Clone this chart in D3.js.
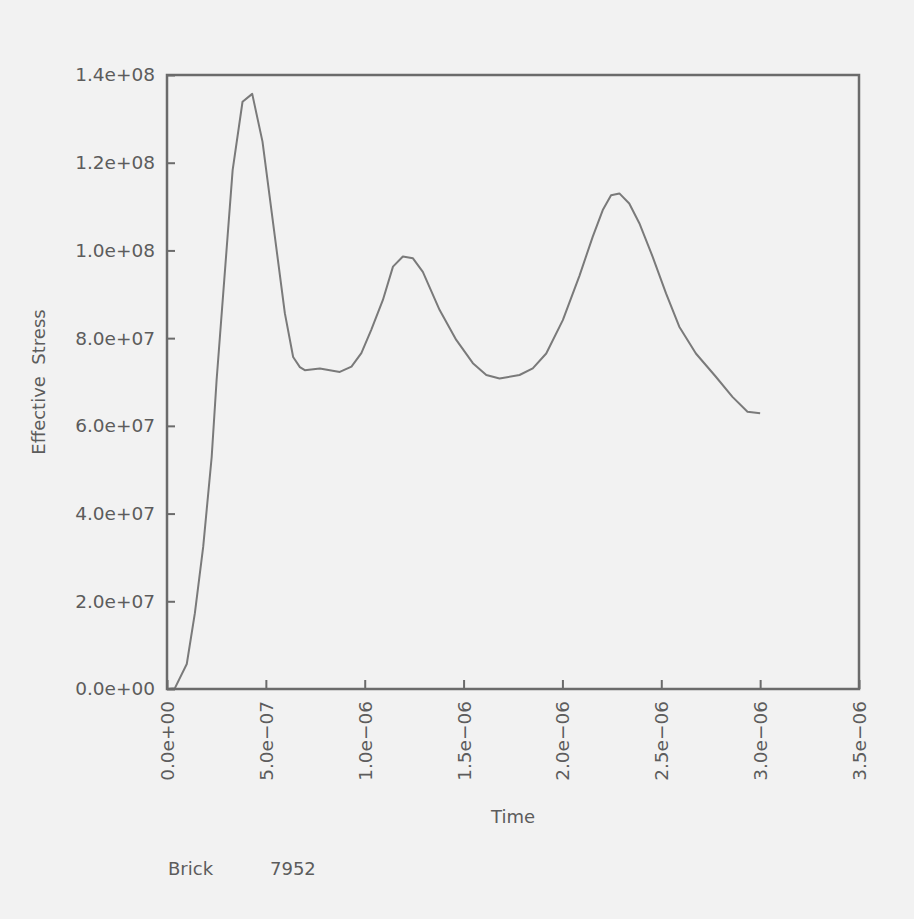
<!DOCTYPE html>
<html>
<head>
<meta charset="utf-8">
<script src="https://cdn.jsdelivr.net/npm/d3@7"></script>
<style>
  html, body { margin: 0; padding: 0; background: #f2f2f2; }
  svg text { font-family: "DejaVu Sans", sans-serif; fill: #5c5c5c; }
</style>
</head>
<body>
<svg id="chart" width="914" height="919"></svg>
<script>
// time in microseconds, effective stress in units of 1e7
const timeUs = [0, 0.040, 0.100, 0.141, 0.183, 0.226, 0.251, 0.332, 0.382, 0.431, 0.483,
  0.596, 0.638, 0.672, 0.697, 0.773, 0.874, 0.933, 0.983, 1.033, 1.092, 1.143, 1.193,
  1.244, 1.294, 1.379, 1.463, 1.547, 1.615, 1.682, 1.783, 1.850, 1.918, 2.002, 2.086,
  2.153, 2.204, 2.246, 2.288, 2.338, 2.389, 2.456, 2.524, 2.591, 2.675, 2.776, 2.860,
  2.936, 3.000];
const stressE7 = [0, 0.02, 0.57, 1.73, 3.24, 5.29, 7.05, 11.83, 13.39, 13.57, 12.48,
  8.57, 7.57, 7.34, 7.27, 7.31, 7.23, 7.35, 7.66, 8.19, 8.87, 9.63, 9.86,
  9.82, 9.51, 8.64, 7.96, 7.43, 7.16, 7.08, 7.16, 7.31, 7.65, 8.41, 9.42,
  10.31, 10.92, 11.26, 11.30, 11.07, 10.62, 9.86, 9.02, 8.26, 7.65, 7.12, 6.66,
  6.32, 6.29];

const xTicks = [0, 5e-7, 1e-6, 1.5e-6, 2e-6, 2.5e-6, 3e-6, 3.5e-6];
const xTickLabels = ["0.0e+00", "5.0e\u221207", "1.0e\u221206", "1.5e\u221206",
  "2.0e\u221206", "2.5e\u221206", "3.0e\u221206", "3.5e\u221206"];
const yTicks = [0, 2e7, 4e7, 6e7, 8e7, 1e8, 1.2e8, 1.4e8];
const yTickLabels = ["0.0e+00", "2.0e+07", "4.0e+07", "6.0e+07", "8.0e+07",
  "1.0e+08", "1.2e+08", "1.4e+08"];

const data = timeUs.map((t, i) => ({ t: t * 1e-6, v: stressE7[i] * 1e7 }));

const svg = d3.select("#chart");
const margin = { top: 75, right: 55, bottom: 230, left: 167 };
const width = 914, height = 919;

const x = d3.scaleLinear().domain([0, 3.5e-6]).range([margin.left, width - margin.right]);
const y = d3.scaleLinear().domain([0, 1.4e8]).range([height - margin.bottom, margin.top]);

const frameColor = "#6b6b6b";

// line
svg.append("path")
  .datum(data)
  .attr("fill", "none")
  .attr("stroke", "#7a7a7a")
  .attr("stroke-width", 2)
  .attr("stroke-linejoin", "round")
  .attr("d", d3.line().x(d => x(d.t)).y(d => y(d.v)));

// frame
svg.append("rect")
  .attr("x", x(0)).attr("y", y(1.4e8))
  .attr("width", x(3.5e-6) - x(0)).attr("height", y(0) - y(1.4e8))
  .attr("fill", "none").attr("stroke", frameColor).attr("stroke-width", 2.5);

// y axis (inward ticks)
const yAxis = d3.axisRight(y).tickValues(yTicks)
  .tickFormat((d, i) => yTickLabels[i]).tickSize(8).tickPadding(-20);
const gy = svg.append("g").attr("transform", `translate(${x(0)},0)`).call(yAxis);
gy.select(".domain").remove();
gy.selectAll(".tick line").attr("stroke", frameColor).attr("stroke-width", 2);
gy.selectAll(".tick text").attr("x", -12).attr("text-anchor", "end")
  .attr("font-size", 18.5).attr("fill", "#5c5c5c");

// x axis (inward ticks, rotated labels)
const xAxis = d3.axisTop(x).tickValues(xTicks)
  .tickFormat((d, i) => xTickLabels[i]).tickSize(9);
const gx = svg.append("g").attr("transform", `translate(0,${y(0)})`).call(xAxis);
gx.select(".domain").remove();
gx.selectAll(".tick line").attr("stroke", frameColor).attr("stroke-width", 2);
gx.selectAll(".tick text")
  .attr("transform", "rotate(-90)")
  .attr("x", -12).attr("y", 0).attr("dy", "0.35em")
  .attr("text-anchor", "end")
  .attr("font-size", 18.5).attr("fill", "#5c5c5c");

svg.append("text")
  .attr("x", (x(0) + x(3.5e-6)) / 2).attr("y", 823)
  .attr("text-anchor", "middle").attr("font-size", 18)
  .text("Time");

svg.append("text")
  .attr("transform", `translate(45,${(y(0) + y(1.4e8)) / 2}) rotate(-90)`)
  .attr("text-anchor", "middle").attr("font-size", 18)
  .style("white-space", "pre")
  .text("Effective  Stress");

svg.append("text").attr("x", 168).attr("y", 875).attr("font-size", 18).text("Brick");
svg.append("text").attr("x", 270).attr("y", 875).attr("font-size", 18).text("7952");
</script>
</body>
</html>
